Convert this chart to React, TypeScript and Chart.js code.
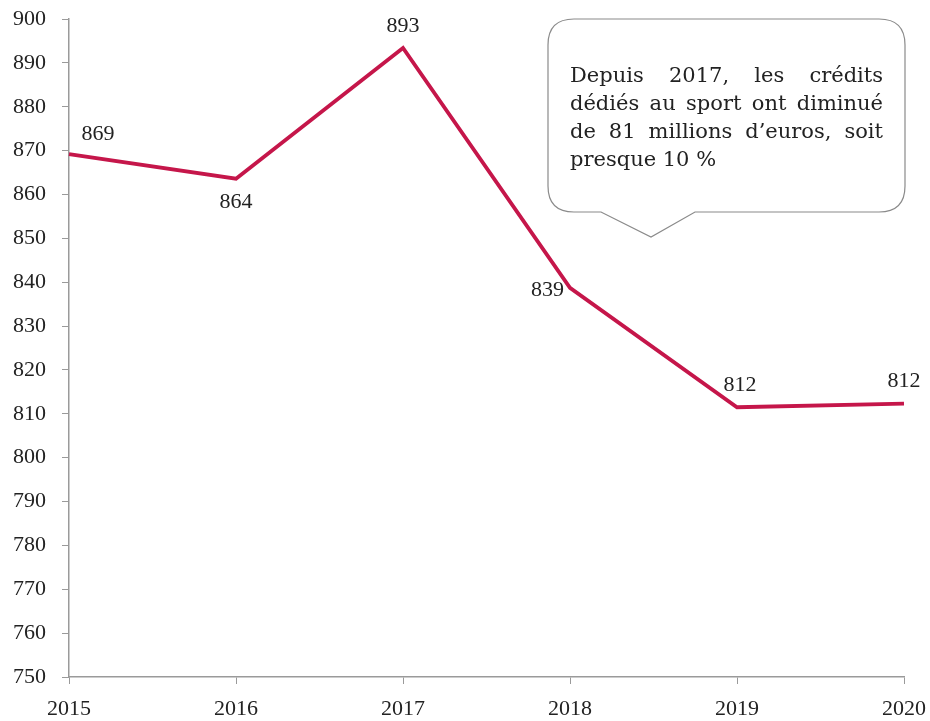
import React, { useEffect, useRef } from "react";
import { Chart, registerables } from "chart.js";

Chart.register(...registerables);

const years = ["2015", "2016", "2017", "2018", "2019", "2020"];
const credits = [869.2, 863.6, 893.4, 838.7, 811.5, 812.3];
const labelPlacement = ["aboveRight", "below", "above", "left", "above", "aboveLeft"];
const calloutLines = [
  "Depuis 2017, les crédits",
  "dédiés au sport ont diminué",
  "de 81 millions d’euros, soit",
  "presque 10 %",
];

const FONT = "'Liberation Serif', serif";
const CALLOUT_FONT = "'DejaVu Serif', serif";
const LINE_COLOR = "#C5164A";
const AXIS_COLOR = "#9a9a9a";
const TEXT_COLOR = "#222";
const NUM_SIZE = 22;

const labelsPlugin = {
  id: "valueLabels",
  afterDatasetsDraw(chart: any) {
    const { ctx } = chart;
    const meta = chart.getDatasetMeta(0);
    ctx.save();
    ctx.font = `${NUM_SIZE}px ${FONT}`;
    ctx.fillStyle = TEXT_COLOR;
    ctx.textBaseline = "middle";
    meta.data.forEach((pt: any, i: number) => {
      const txt = String(Math.round(credits[i]));
      const p = labelPlacement[i];
      let x = pt.x, y = pt.y;
      ctx.textAlign = "center";
      if (p === "above") { y -= 22; x += i === 2 ? 0 : 3; }
      else if (p === "below") { y += 24; }
      else if (p === "aboveRight") { x += 29; y -= 20; }
      else if (p === "aboveLeft") { y -= 22; }
      else if (p === "left") { ctx.textAlign = "right"; x -= 6; y += 2; }
      ctx.fillText(txt, x, y);
    });
    ctx.restore();
  },
};

const calloutPlugin = {
  id: "callout",
  afterDraw(chart: any) {
    const { ctx } = chart;
    const left = 548, top = 19, right = 905, bottom = 212, r = 26;
    const baseL = 601, baseR = 695, tipX = 651, tipY = 237;
    ctx.save();
    ctx.beginPath();
    ctx.moveTo(left + r, top);
    ctx.lineTo(right - r, top);
    ctx.quadraticCurveTo(right, top, right, top + r);
    ctx.lineTo(right, bottom - r);
    ctx.quadraticCurveTo(right, bottom, right - r, bottom);
    ctx.lineTo(baseR, bottom);
    ctx.lineTo(tipX, tipY);
    ctx.lineTo(baseL, bottom);
    ctx.lineTo(left + r, bottom);
    ctx.quadraticCurveTo(left, bottom, left, bottom - r);
    ctx.lineTo(left, top + r);
    ctx.quadraticCurveTo(left, top, left + r, top);
    ctx.closePath();
    ctx.fillStyle = "#fff";
    ctx.fill();
    ctx.strokeStyle = "#8a8a8a";
    ctx.lineWidth = 1.2;
    ctx.stroke();

    ctx.font = `21px ${CALLOUT_FONT}`;
    ctx.fillStyle = TEXT_COLOR;
    ctx.textBaseline = "alphabetic";
    ctx.textAlign = "left";
    const tx0 = 570, tx1 = 883, lh = 28, y0 = 82;
    calloutLines.forEach((line, i) => {
      const y = y0 + i * lh;
      const words = line.split(" ");
      if (i === calloutLines.length - 1 || words.length < 2) {
        ctx.fillText(line, tx0, y);
        return;
      }
      const wordsW = words.reduce((s, w) => s + ctx.measureText(w).width, 0);
      const gap = Math.max(3, (tx1 - tx0 - wordsW) / (words.length - 1));
      let x = tx0;
      words.forEach((w) => {
        ctx.fillText(w, x, y);
        x += ctx.measureText(w).width + gap;
      });
    });
    ctx.restore();
  },
};

export default function App() {
  const ref = useRef<HTMLCanvasElement | null>(null);
  useEffect(() => {
    document.body.style.margin = "0";
    if (!ref.current) return;
    const chart = new Chart(ref.current, {
      type: "line",
      data: {
        labels: years,
        datasets: [
          {
            data: credits,
            borderColor: LINE_COLOR,
            borderWidth: 3.8,
            pointRadius: 0,
            tension: 0,
            fill: false,
          },
        ],
      },
      options: {
        animation: false,
        responsive: false,
        layout: { padding: 0 },
        plugins: { legend: { display: false }, tooltip: { enabled: false } },
        scales: {
          x: {
            offset: false,
            grid: { display: true, drawOnChartArea: false, drawTicks: true, tickLength: 7, color: AXIS_COLOR },
            border: { color: AXIS_COLOR, width: 1.5 },
            ticks: { color: TEXT_COLOR, font: { family: FONT, size: NUM_SIZE }, maxRotation: 0, padding: 12 },
            afterFit(scale: any) {
              scale.height = 44;
              scale.paddingLeft = 0;
              scale.paddingRight = 26;
            },
          },
          y: {
            min: 750,
            max: 900,
            grid: { display: true, drawOnChartArea: false, drawTicks: true, tickLength: 7, color: AXIS_COLOR },
            border: { color: AXIS_COLOR, width: 1.5 },
            ticks: { stepSize: 10, color: TEXT_COLOR, font: { family: FONT, size: NUM_SIZE }, padding: 16 },
            afterFit(scale: any) {
              scale.width = 69;
              scale.paddingTop = 19;
              scale.paddingBottom = 0;
            },
          },
        },
      },
      plugins: [labelsPlugin, calloutPlugin],
    });
    return () => chart.destroy();
  }, []);
  return <canvas ref={ref} width={930} height={721} style={{ display: "block" }} />;
}
